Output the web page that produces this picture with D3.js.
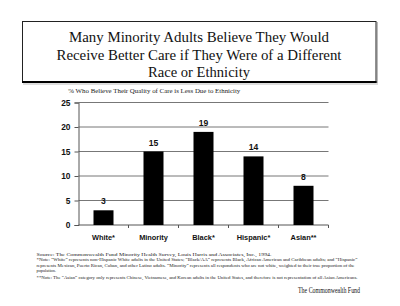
<!DOCTYPE html>
<html>
<head>
<meta charset="utf-8">
<script src="https://cdn.jsdelivr.net/npm/d3@7"></script>
<style>
  body { margin: 0; background: #fff; }
  svg { display: block; }
</style>
</head>
<body>
<div id="chart"></div>
<script>
  var categories = ["White*", "Minority", "Black*", "Hispanic*", "Asian**"];
  var values = [3, 15, 19, 14, 8];
  var yTicks = [0, 5, 10, 15, 20, 25];
  var titleLines = [
    "Many Minority Adults Believe They Would",
    "Receive Better Care if They Were of a Different",
    "Race or Ethnicity"
  ];
  var subtitle = "% Who Believe Their Quality of Care is Less Due to Ethnicity";
  var notes = [
    "Source: The Commonwealth Fund Minority Health Survey, Louis Harris and Associates, Inc., 1994.",
    "*Note: \u201cWhite\u201d represents non-Hispanic White adults in the United States; \u201cBlack/AA\u201d represents Black, African American and Caribbean adults; and \u201cHispanic\u201d",
    "represents Mexican, Puerto Rican, Cuban, and other Latino adults.  \u201cMinority\u201d represents all respondents who are not white, weighted to their true proportion of the",
    "population.",
    "**Note: The \u201cAsian\u201d category only represents Chinese, Vietnamese, and Korean adults in the United States, and therefore is not representation of all Asian Americans."
  ];
  var credit = "The Commonwealth Fund";

  var width = 400, height = 306;
  var svg = d3.select("#chart").append("svg").attr("width", width).attr("height", height);

  // title box
  svg.append("rect").attr("x", 22.5).attr("y", 21.5).attr("width", 353.5).attr("height", 60)
    .style("fill", "none").style("stroke", "#222").style("stroke-width", 1);
  svg.append("line").attr("x1", 22).attr("x2", 377).attr("y1", 82).attr("y2", 82)
    .style("stroke", "#000").style("stroke-width", 2.2);
  svg.append("line").attr("x1", 377).attr("x2", 377).attr("y1", 22).attr("y2", 83)
    .style("stroke", "#777").style("stroke-width", 1);
  svg.append("line").attr("x1", 23).attr("x2", 378).attr("y1", 84).attr("y2", 84)
    .style("stroke", "#bbb").style("stroke-width", 1);

  var titleLen = [260, 285, 102];
  svg.selectAll("text.title").data(titleLines).enter().append("text")
    .attr("class", "title")
    .attr("x", 199).attr("y", function(d, i) { return 42 + i * 17.5; })
    .attr("text-anchor", "middle")
    .attr("textLength", function(d, i) { return titleLen[i]; })
    .attr("lengthAdjust", "spacingAndGlyphs")
    .style("font-family", "'Liberation Serif', 'Times New Roman', serif")
    .style("font-size", "15px").style("fill", "#111")
    .text(function(d) { return d; });

  svg.append("text").attr("x", 68.3).attr("y", 92.5)
    .attr("textLength", 172).attr("lengthAdjust", "spacingAndGlyphs")
    .style("font-family", "'Liberation Serif', serif").style("font-size", "6.2px").style("fill", "#222")
    .text(subtitle);

  var margin = { left: 78.5, right: 328.5, top: 102.5, bottom: 225 };
  var x = d3.scaleBand().domain(categories).range([margin.left, margin.right]).paddingInner(0.6).paddingOuter(0.3);
  var y = d3.scaleLinear().domain([0, 25]).range([margin.bottom, margin.top]);

  // gridlines
  svg.append("g").selectAll("line").data(yTicks.slice(1)).enter().append("line")
    .attr("x1", margin.left).attr("x2", margin.right)
    .attr("y1", function(d) { return y(d); }).attr("y2", function(d) { return y(d); })
    .style("stroke", "#777").style("stroke-width", 1);

  // y axis
  var yAxis = svg.append("g").attr("transform", "translate(" + margin.left + ",0)")
    .call(d3.axisLeft(y).tickValues(yTicks).tickSize(4).tickPadding(4));
  yAxis.select(".domain").style("stroke", "#555");
  yAxis.selectAll(".tick line").style("stroke", "#555");
  yAxis.selectAll("text").style("font-family", "'Liberation Sans', Arial, sans-serif")
    .style("font-weight", "bold").style("font-size", "8.4px").style("fill", "#111");

  // x axis
  var step = x.step();
  var xAxis = svg.append("g").attr("transform", "translate(0," + margin.bottom + ")");
  xAxis.append("line").attr("x1", margin.left).attr("x2", margin.right)
    .style("stroke", "#555").style("stroke-width", 1);
  xAxis.selectAll("line.sep").data(categories).enter().append("line").attr("class", "sep")
    .attr("x1", function(d) { return x(d) - x.bandwidth() * 0.75 + step; })
    .attr("x2", function(d) { return x(d) - x.bandwidth() * 0.75 + step; })
    .attr("y1", 0).attr("y2", 3).style("stroke", "#555");
  xAxis.selectAll("text").data(categories).enter().append("text")
    .attr("x", function(d) { return x(d) + x.bandwidth() / 2; }).attr("y", 14.5)
    .attr("text-anchor", "middle")
    .style("font-family", "'Liberation Sans', Arial, sans-serif")
    .style("font-weight", "bold").style("font-size", "7.4px").style("fill", "#111")
    .text(function(d) { return d; });

  // bars
  svg.append("g").selectAll("rect").data(values).enter().append("rect")
    .attr("x", function(d, i) { return x(categories[i]); })
    .attr("y", function(d) { return y(d); })
    .attr("width", x.bandwidth())
    .attr("height", function(d) { return y(0) - y(d); })
    .style("fill", "#000");

  svg.append("g").selectAll("text").data(values).enter().append("text")
    .attr("x", function(d, i) { return x(categories[i]) + x.bandwidth() / 2; })
    .attr("y", function(d) { return y(d) - 6; })
    .attr("text-anchor", "middle")
    .style("font-family", "'Liberation Sans', Arial, sans-serif")
    .style("font-weight", "bold").style("font-size", "8.6px").style("fill", "#111")
    .text(function(d) { return d; });

  // footnotes
  var noteY = [255.5, 261, 266.5, 272, 279];
  var noteLen = [235, 321, 318, null, 321];
  svg.append("g").selectAll("text").data(notes).enter().append("text")
    .attr("x", 36.5).attr("y", function(d, i) { return noteY[i]; })
    .attr("textLength", function(d, i) { return noteLen[i]; })
    .attr("lengthAdjust", "spacingAndGlyphs")
    .style("font-family", "'Liberation Serif', serif").style("font-size", "4.3px").style("fill", "#222")
    .text(function(d) { return d; });

  svg.append("text").attr("x", 360).attr("y", 292.5).attr("text-anchor", "end")
    .attr("textLength", 62).attr("lengthAdjust", "spacingAndGlyphs")
    .style("font-family", "'Liberation Serif', serif").style("font-size", "7.6px").style("fill", "#111")
    .text(credit);
</script>
</body>
</html>
